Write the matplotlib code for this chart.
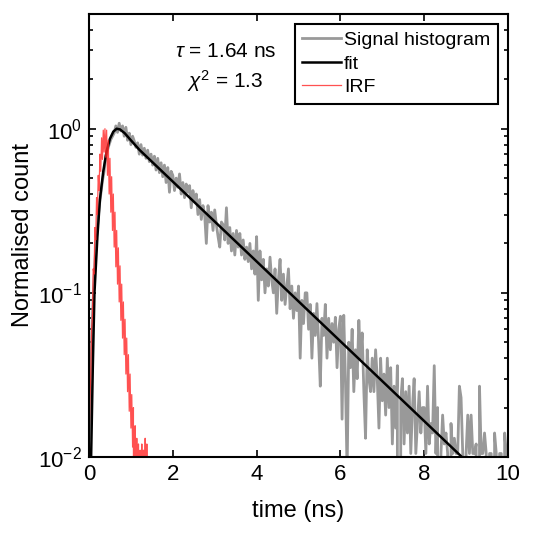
import numpy as np
import matplotlib
matplotlib.use("Agg")
import matplotlib.pyplot as plt

plt.rcParams["font.family"] = ["Liberation Sans", "DejaVu Sans"]
plt.rcParams["mathtext.fontset"] = "custom"
plt.rcParams["mathtext.rm"] = "Liberation Sans"
plt.rcParams["mathtext.it"] = "Liberation Sans:italic"

## signal histogram, 0.04 ns bins from 0 to 10 ns
bin_width = 0.04
signal_counts = [
    0.013, 0.03, 0.07, 0.12, 0.19, 0.25, 0.33, 0.40, 0.48, 0.55,
    0.68, 0.74, 0.80, 0.86, 0.90, 0.94, 1.04, 0.95, 1.08, 0.97,
    1.04, 0.90, 1.02, 0.85, 0.94, 0.80, 0.90, 0.84, 0.77, 0.82,
    0.70, 0.80, 0.69, 0.76, 0.66, 0.74, 0.63, 0.70, 0.60, 0.68,
    0.56, 0.66, 0.54, 0.62, 0.51, 0.60, 0.47, 0.58, 0.41, 0.55,
    0.52, 0.42, 0.50, 0.44, 0.53, 0.40, 0.47, 0.38, 0.46, 0.41,
    0.45, 0.33, 0.42, 0.36, 0.40, 0.30, 0.37, 0.28, 0.34, 0.30,
    0.20, 0.34, 0.27, 0.31, 0.24, 0.32, 0.26, 0.22, 0.19, 0.27,
    0.26, 0.21, 0.33, 0.20, 0.25, 0.18, 0.23, 0.17, 0.24, 0.19,
    0.23, 0.17, 0.21, 0.16, 0.19, 0.155, 0.20, 0.14, 0.18, 0.13,
    0.22, 0.09, 0.18, 0.12, 0.16, 0.10, 0.14, 0.11, 0.165, 0.12,
    0.10, 0.14, 0.075, 0.12, 0.16, 0.09, 0.13, 0.085, 0.11, 0.14,
    0.08, 0.11, 0.07, 0.10, 0.078, 0.11, 0.04, 0.09, 0.065, 0.10,
    0.10, 0.06, 0.085, 0.04, 0.075, 0.055, 0.086, 0.05, 0.027, 0.07,
    0.055, 0.085, 0.04, 0.07, 0.045, 0.065, 0.05, 0.071, 0.035, 0.06,
    0.072, 0.017, 0.073, 0.03, 0.008, 0.05, 0.035, 0.06, 0.025, 0.045,
    0.03, 0.068, 0.04, 0.057, 0.025, 0.013, 0.045, 0.03, 0.025, 0.04,
    0.025, 0.045, 0.03, 0.015, 0.04, 0.022, 0.032, 0.018, 0.04, 0.02,
    0.035, 0.012, 0.027, 0.015, 0.036, 0.0, 0.022, 0.03, 0.012, 0.025,
    0.014, 0.027, 0.0105, 0.02, 0.03, 0.0105, 0.016, 0.025, 0.014, 0.02,
    0.02, 0.0105, 0.027, 0.012, 0.016, 0.014, 0.036, 0.0105, 0.02, 0.0,
    0.0105, 0.018, 0.012, 0.014, 0.0105, 0.0, 0.016, 0.0105, 0.013, 0.0105,
    0.0105, 0.027, 0.023, 0.0105, 0.0, 0.0105, 0.018, 0.0105, 0.018, 0.0105,
    0.0105, 0.012, 0.0, 0.027, 0.0105, 0.0105, 0.014, 0.0105, 0.0, 0.0105,
    0.0105, 0.0, 0.014, 0.0105, 0.0, 0.0105, 0.0105, 0.0, 0.014, 0.0105,
    0.0,
]

## fitted curve
fit_time = [0.05, 0.09, 0.13, 0.20, 0.26, 0.34, 0.42, 0.50, 0.58, 0.66,
            0.74, 0.85, 1.00, 1.20, 10.0]
fit_value = [0.01, 0.035, 0.10, 0.22, 0.37, 0.55, 0.73, 0.87, 0.96, 1.0,
             0.99, 0.94, 0.85, 0.745, 0.0054]

## instrument response, 0.02 ns bins
irf_width = 0.02
irf_counts = [
    0.012, 0.022, 0.03, 0.06, 0.07, 0.14, 0.13, 0.25, 0.21, 0.38,
    0.30, 0.52, 0.42, 0.70, 0.55, 0.88, 0.65, 0.98, 0.72, 1.0,
    0.67, 0.98, 0.52, 0.85, 0.40, 0.66, 0.31, 0.51, 0.24, 0.40,
    0.19, 0.31, 0.144, 0.24, 0.113, 0.188, 0.088, 0.146, 0.068, 0.113,
    0.053, 0.088, 0.042, 0.069, 0.032, 0.053, 0.025, 0.042, 0.019, 0.032,
    0.015, 0.024, 0.0115, 0.02, 0.0, 0.0155, 0.0, 0.013, 0.0, 0.012,
    0.0, 0.011, 0.0, 0.012, 0.0, 0.011, 0.0, 0.013, 0.0, 0.012,
    0.0,
]

tau_text = r"$\tau$ = 1.64 ns"
chi_text = r"$\chi^2$ = 1.3"

signal_time = np.arange(len(signal_counts)) * bin_width
irf_time = np.arange(len(irf_counts)) * irf_width

fig = plt.figure(figsize=(5.35, 5.38), dpi=100)
ax = fig.add_axes([0.1664, 0.1506, 0.7831, 0.8234])

ax.plot(signal_time, signal_counts, color=(0.6, 0.6, 0.6), lw=2.0, label="Signal histogram")
ax.plot(fit_time, fit_value, color="black", lw=1.8, label="fit")
ax.plot(irf_time, irf_counts, color=(1.0, 0.15, 0.15), lw=0.9, alpha=0.8, label="IRF")

ax.set_yscale("log")
ax.set_xlim(0, 10)
ax.set_ylim(0.01, 5)
ax.set_xticks([0, 2, 4, 6, 8, 10])
ax.set_yticks([0.01, 0.1, 1])

ax.tick_params(which="both", direction="in", top=True, right=True, labelsize=16, width=1.2)
ax.tick_params(which="major", length=5, pad=5)
ax.tick_params(which="minor", length=3)
for s in ax.spines.values():
    s.set_linewidth(1.5)

ax.set_xlabel("time (ns)", fontsize=17, labelpad=11)
ax.set_ylabel("Normalised count", fontsize=17, labelpad=3)

ax.text(0.325, 0.878, tau_text + "\n" + chi_text, transform=ax.transAxes,
        ha="center", va="center", fontsize=15, linespacing=1.35)

leg = ax.legend(loc="upper right", fontsize=14, fancybox=False, edgecolor="black",
                framealpha=1, borderpad=0.4, labelspacing=0.3, handlelength=2.0,
                handletextpad=0.15, borderaxespad=0.5)
leg.get_frame().set_linewidth(1.5)

fig.savefig("out.png", dpi=100)
